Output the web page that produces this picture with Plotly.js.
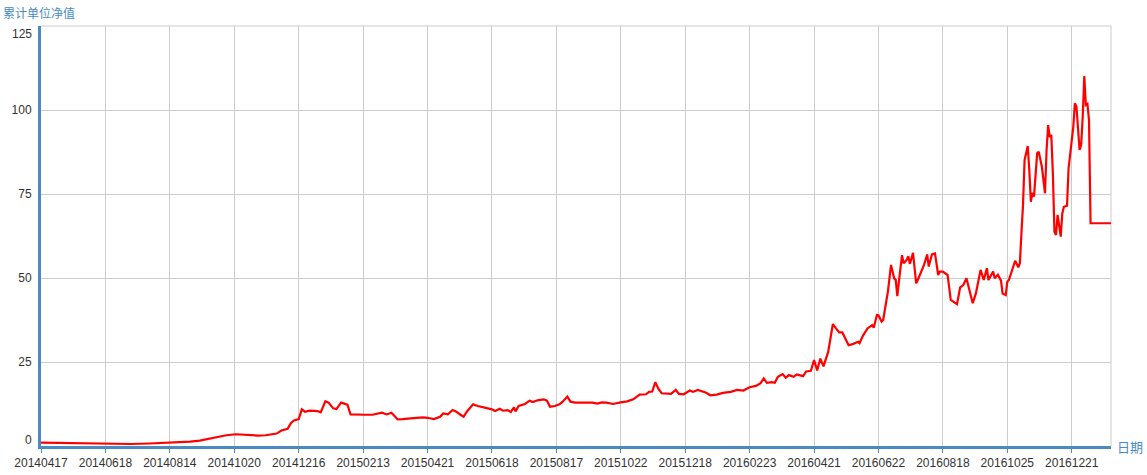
<!DOCTYPE html>
<html>
<head>
<meta charset="utf-8">
<script src="https://cdn.plot.ly/plotly-3.0.1.min.js"></script>
<style>
html,body{margin:0;padding:0;background:#fff;}
#chart{width:1147px;height:475px;}
</style>
</head>
<body>
<div id="chart"></div>
<script>
// x-axis category labels (one label every 41 trading days)
const tickLabels = ['20140417','20140618','20140814','20141020','20141216','20150213','20150421','20150618','20150817','20151022','20151218','20160223','20160421','20160622','20160818','20161025','20161221'];
const labelInterval = 41;
const dayCount = 682;

// trading-day index (0 = 20140417) of each sampled point
const tradingDay = [0,12,25,38,46,57,69,80,89,95,101,106,110,114,118,124,127,131,135,138,143,147,150,153,157,159,161,164,166,168,171,176,178,181,183,186,188,191,194,195,197,200,206,211,214,217,220,223,225,227,230,235,239,243,246,250,254,256,259,262,264,267,269,271,275,278,283,287,289,292,294,297,299,301,302,304,308,311,313,316,320,322,324,327,330,332,335,337,340,345,351,354,357,360,364,369,373,377,381,385,387,389,391,393,395,401,404,406,409,413,415,418,423,426,430,434,439,443,447,451,455,458,460,462,465,467,469,472,474,476,479,481,485,487,490,492,494,496,498,501,504,506,508,510,512,514,517,520,521,523,526,529,530,532,533,535,536,538,539,541,543,544,545,546,548,549,551,552,553,555,557,558,561,562,564,565,567,569,571,572,574,577,579,581,583,585,587,589,593,595,597,598,600,602,603,606,607,609,611,612,614,615,616,618,620,622,623,624,625,626,628,629,630,631,632,634,635,637,639,640,641,642,643,644,645,646,647,649,650,651,653,654,655,657,658,659,661,662,663,664,665,666,667,668,681];

// cumulative unit net value at those days
const navValues = [1.0,0.9,0.8,0.7,0.5,0.6,0.75,1.0,1.1,1.3,1.6,2.1,2.5,2.8,3.2,3.5,3.4,3.2,3.0,3.1,3.2,3.4,3.7,4.6,5.1,6.8,7.6,8.0,10.9,10.2,10.5,10.4,10.0,13.3,12.9,11.2,11.0,12.9,12.5,12.3,9.4,9.3,9.3,9.3,9.7,9.9,9.4,9.9,8.9,7.9,8.0,8.3,8.4,8.5,8.4,8.0,8.7,9.7,9.4,10.7,10.3,9.3,8.7,10.2,12.4,11.9,11.4,10.9,10.4,11.1,10.5,10.7,10.1,11.5,10.3,11.9,12.5,13.5,13.1,13.6,13.9,13.5,11.7,11.9,12.4,13.2,14.7,13.2,12.9,13.0,12.9,12.6,13.0,12.9,12.5,13.0,13.3,13.9,15.3,15.4,16.1,16.2,19.0,17.0,15.7,15.5,16.7,15.5,15.4,16.5,16.1,16.7,15.9,15.1,15.3,15.8,16.1,16.7,16.5,17.5,17.9,18.7,20.1,18.8,19.0,18.8,20.6,21.4,20.3,21.1,20.6,21.3,20.8,22.2,22.4,25.6,22.5,26.0,23.7,28.0,36.3,35.0,33.8,33.8,32.0,30.0,30.4,31.0,30.6,32.7,35.0,36.0,35.2,39.0,38.9,37.0,37.5,42.9,45.9,53.9,49.9,49.4,44.6,48.9,56.8,54.4,55.4,56.5,54.2,57.5,48.4,49.4,52.4,53.9,57.0,53.4,57.0,57.3,50.9,51.9,51.9,50.9,43.5,42.9,42.2,47.2,47.9,49.9,42.5,45.4,49.9,52.4,49.4,52.9,49.4,51.9,49.9,51.0,49.2,45.4,44.9,48.9,49.4,52.4,55.1,53.2,54.4,63.3,71.7,85.1,89.3,82.1,72.7,75.4,74.2,87.1,87.6,83.1,75.2,88.1,95.5,91.9,92.6,81.2,63.8,62.8,68.8,62.3,69.2,71.2,71.5,82.6,86.3,95.0,102.0,101.0,88.1,89.6,98.0,110.1,101.5,101.8,97.0,66.3,66.3];

const yTicks = [25,50,75,100];
const yEdgeTicks = [0,125];

const blue = '#4a8bc2';
const fontFam = 'Liberation Sans, Arial, Noto Sans CJK SC, sans-serif';

const tickvals = tickLabels.map((_, i) => i * labelInterval);

const trace = {
  x: tradingDay,
  y: navValues,
  type: 'scatter',
  mode: 'lines',
  line: {color: '#ff0000', width: 2.2},
  hoverinfo: 'skip'
};

const annotations = yEdgeTicks.map(v => ({
  xref: 'paper', yref: 'y', x: 0, y: v,
  xanchor: 'right', yanchor: 'middle',
  xshift: -7, yshift: v === 0 ? 6 : -8,
  text: String(v), showarrow: false,
  font: {family: fontFam, size: 12, color: '#333'}
}));
annotations.push({
  xref: 'paper', yref: 'paper', x: 0, y: 1, xanchor: 'left', yanchor: 'bottom',
  xshift: -40, yshift: 3, text: '累计单位净值', showarrow: false,
  font: {family: 'Noto Sans CJK SC, sans-serif', size: 12, color: blue}
});
annotations.push({
  xref: 'paper', yref: 'paper', x: 1, y: 0, xanchor: 'left', yanchor: 'middle',
  xshift: 4, yshift: 0, text: '日期', showarrow: false,
  font: {family: 'Noto Sans CJK SC, sans-serif', size: 13, color: blue}
});

const layout = {
  width: 1147, height: 475,
  margin: {l: 41, r: 36, t: 26, b: 29, pad: 0},
  paper_bgcolor: '#fff', plot_bgcolor: '#fff',
  showlegend: false,
  xaxis: {
    range: [0, dayCount - 1],
    tickmode: 'array', tickvals: tickvals, ticktext: tickLabels,
    showgrid: true, gridcolor: '#cccccc', gridwidth: 1,
    showline: true, linecolor: blue, linewidth: 3,
    ticks: 'outside', ticklen: 4, tickcolor: blue, tickwidth: 1,
    tickfont: {family: fontFam, size: 12, color: '#333'},
    zeroline: false, fixedrange: true
  },
  yaxis: {
    range: [0, 125],
    tickmode: 'array', tickvals: yTicks, ticktext: yTicks.map(String),
    showgrid: true, gridcolor: '#cccccc', gridwidth: 1,
    showline: true, linecolor: blue, linewidth: 3,
    ticks: '', ticklabelstandoff: 4,
    tickfont: {family: fontFam, size: 12, color: '#333'},
    zeroline: false, fixedrange: true
  },
  shapes: [
    {type: 'line', xref: 'paper', yref: 'paper', x0: 0, x1: 1, y0: 1, y1: 1, line: {color: '#cccccc', width: 1}, layer: 'below'},
    {type: 'line', xref: 'paper', yref: 'paper', x0: 1, x1: 1, y0: 0, y1: 1, line: {color: '#cccccc', width: 1}, layer: 'below'}
  ],
  annotations: annotations
};

Plotly.newPlot('chart', [trace], layout, {displayModeBar: false, staticPlot: true});
</script>
</body>
</html>
